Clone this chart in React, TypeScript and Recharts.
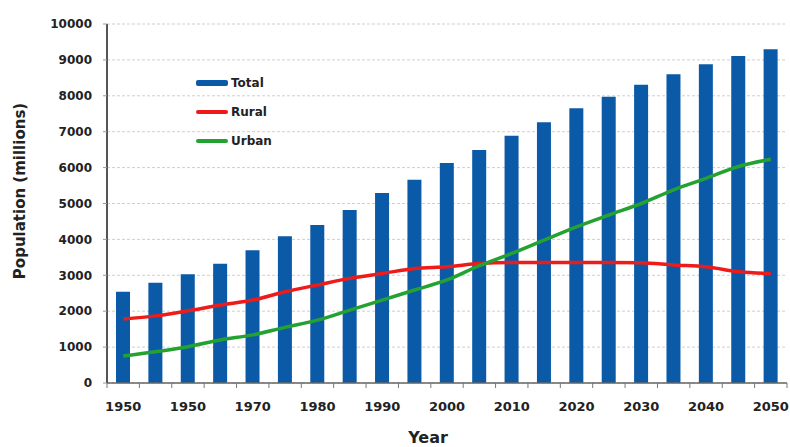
import React from "react";
import {
  ComposedChart,
  Bar,
  Line,
  XAxis,
  YAxis,
  CartesianGrid,
} from "recharts";

const years = [
  1950, 1955, 1960, 1965, 1970, 1975, 1980, 1985, 1990, 1995, 2000,
  2005, 2010, 2015, 2020, 2025, 2030, 2035, 2040, 2045, 2050,
];
const total = [
  2540, 2790, 3030, 3320, 3700, 4090, 4400, 4820, 5290, 5660, 6130,
  6490, 6890, 7260, 7650, 7975, 8310, 8600, 8880, 9110, 9295,
];
const rural = [
  1780, 1870, 2010, 2170, 2310, 2540, 2730, 2915, 3050, 3190, 3240,
  3330, 3360, 3360, 3360, 3360, 3350, 3290, 3240, 3100, 3050,
];
const urban = [
  750, 870, 1010, 1200, 1340, 1550, 1750, 2030, 2310, 2590, 2870,
  3270, 3610, 3980, 4350, 4680, 5000, 5380, 5700, 6030, 6230,
];
// labels under every other bar, as printed in the source (second one reads 1950)
const tickLabels = [
  "1950", "1950", "1970", "1980", "1990", "2000",
  "2010", "2020", "2030", "2040", "2050",
];
const yTicks = [0, 1000, 2000, 3000, 4000, 5000, 6000, 7000, 8000, 9000, 10000];

const data = years.map((year, i) => ({
  year,
  Total: total[i],
  Rural: rural[i],
  Urban: urban[i],
}));

const BLUE = "#0b5aa8";
const RED = "#ee1b1b";
const GREEN = "#23a231";
const FONT = "'DejaVu Sans', Verdana, sans-serif";

const WIDTH = 790;
const HEIGHT = 447;
const PLOT_LEFT = 107;
const PLOT_RIGHT = 3;
const HALF_BAND = (WIDTH - PLOT_LEFT - PLOT_RIGHT) / years.length / 2;

function XTick(props: any) {
  const { x, y, index } = props;
  const left = x - HALF_BAND;
  const showLabel = index % 2 === 0;
  return (
    <g>
      <line x1={left} y1={y} x2={left} y2={y + 5} stroke="#777" strokeWidth={1} />
      {index === years.length - 1 && (
        <line x1={x + HALF_BAND} y1={y} x2={x + HALF_BAND} y2={y + 5} stroke="#777" />
      )}
      {showLabel && (
        <text
          x={x}
          y={y + 28}
          textAnchor="middle"
          fontFamily={FONT}
          fontWeight="bold"
          fontSize={13}
          fill="#222"
        >
          {tickLabels[index / 2]}
        </text>
      )}
    </g>
  );
}

const legendItems = [
  { name: "Total", color: BLUE, thick: 6 },
  { name: "Rural", color: RED, thick: 4 },
  { name: "Urban", color: GREEN, thick: 4 },
];

export default function App() {
  return (
    <div style={{ position: "absolute", left: 0, top: 0, width: WIDTH, height: HEIGHT, background: "#fff" }}>
      <ComposedChart
        width={WIDTH}
        height={HEIGHT}
        data={data}
        margin={{ top: 24, right: PLOT_RIGHT, bottom: 0, left: 0 }}
      >
        <CartesianGrid
          vertical={false}
          stroke="#cfcfcf"
          strokeDasharray="3 2"
        />
        <XAxis
          dataKey="year"
          height={64}
          interval={0}
          tickLine={false}
          tickSize={0}
          tickMargin={0}
          tick={<XTick />}
          axisLine={{ stroke: "#666", strokeWidth: 1.5 }}
        />
        <YAxis
          width={PLOT_LEFT}
          domain={[0, 10000]}
          ticks={yTicks}
          interval={0}
          tickSize={4}
          tickMargin={11}
          tickLine={{ stroke: "#999" }}
          axisLine={{ stroke: "#555", strokeWidth: 2 }}
          tick={{ fontFamily: FONT, fontWeight: "bold", fontSize: 12, fill: "#222" }}
        />
        <Bar dataKey="Total" fill={BLUE} barSize={14} isAnimationActive={false} />
        <Line
          type="monotone"
          dataKey="Rural"
          stroke={RED}
          strokeWidth={3.5}
          dot={false}
          isAnimationActive={false}
        />
        <Line
          type="monotone"
          dataKey="Urban"
          stroke={GREEN}
          strokeWidth={3.5}
          dot={false}
          isAnimationActive={false}
        />
        <text
          x={20}
          y={191}
          transform="rotate(-90, 20, 191)"
          textAnchor="middle"
          dominantBaseline="central"
          fontFamily={FONT}
          fontWeight="bold"
          fontSize={15}
          fill="#222"
        >
          Population (millions)
        </text>
        <text
          x={428}
          y={443}
          textAnchor="middle"
          fontFamily={FONT}
          fontWeight="bold"
          fontSize={16}
          fill="#222"
        >
          Year
        </text>
      </ComposedChart>

      <div style={{ position: "absolute", left: 196, top: 68, fontFamily: FONT }}>
        {legendItems.map((item) => (
          <div key={item.name} style={{ display: "flex", alignItems: "center", height: 29 }}>
            <div style={{ width: 32, height: item.thick, background: item.color, borderRadius: 2 }} />
            <span style={{ marginLeft: 3, fontSize: 12, fontWeight: "bold", color: "#222" }}>
              {item.name}
            </span>
          </div>
        ))}
      </div>
    </div>
  );
}
